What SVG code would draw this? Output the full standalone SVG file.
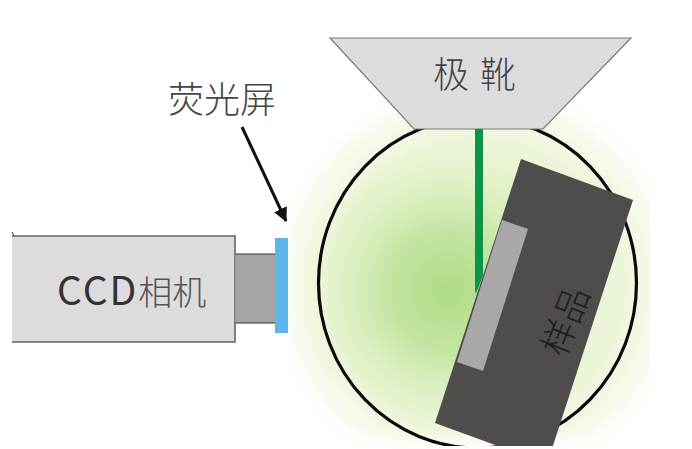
<svg xmlns="http://www.w3.org/2000/svg" width="692" height="449" viewBox="0 0 692 449">
  <defs>
    <radialGradient id="halo" gradientUnits="userSpaceOnUse" cx="477" cy="285" r="205">
      <stop offset="0" stop-color="#e6f3c8"/>
      <stop offset="0.7" stop-color="#ecf5d8"/>
      <stop offset="0.88" stop-color="#f6faec"/>
      <stop offset="1" stop-color="#ffffff"/>
    </radialGradient>
    <radialGradient id="glow" gradientUnits="userSpaceOnUse" cx="448" cy="290" r="150">
      <stop offset="0" stop-color="#aedb84" stop-opacity="1"/>
      <stop offset="0.4" stop-color="#bfe39c" stop-opacity="0.9"/>
      <stop offset="1" stop-color="#dff0c0" stop-opacity="0"/>
    </radialGradient>
    <marker id="arrow" markerUnits="userSpaceOnUse" markerWidth="15" markerHeight="14" refX="13" refY="7" orient="auto">
      <path d="M0,0 L14,7 L0,14 Z" fill="#111"/>
    </marker>
    <clipPath id="page"><rect x="0" y="0" width="692" height="446"/></clipPath>
    <linearGradient id="fadeBottom" x1="0" y1="0" x2="0" y2="1">
      <stop offset="0" stop-color="#ffffff" stop-opacity="0"/>
      <stop offset="1" stop-color="#ffffff"/>
    </linearGradient>
  </defs>
  <style>
    text { font-family: "Noto Sans CJK SC", "Noto Sans", sans-serif; fill: #444444; font-weight: 300; }
    .lbl { font-size: 36px; }
  </style>
  <rect width="692" height="449" fill="#ffffff"/>
  <g id="glow-bg">
    <rect x="290" y="90" width="360" height="359" fill="url(#halo)"/>
    <ellipse cx="448" cy="290" rx="150" ry="150" fill="url(#glow)"/>
    <rect x="290" y="430" width="360" height="19" fill="url(#fadeBottom)"/>
  </g>
  <g id="chamber">
    <ellipse cx="477.5" cy="283" rx="159" ry="165" fill="none" stroke="#0a0a0a" stroke-width="3.200" clip-path="url(#page)"/>
  </g>
  <g id="target">
    <polygon points="330,38 631,38 543,129 414,129" fill="#dcdcdd" stroke="#7a7a7a" stroke-width="1.2"/>
    <text class="lbl" x="433" y="88" style="letter-spacing:1.5px">极 靴</text>
  </g>
  <g id="beam">
    <polygon points="475,129 483,129 483,275 476,294 475,290" fill="#0d9448"/>
  </g>
  <g id="sample">
    <polygon points="521,159 633,200 547,464 435,423" fill="#504c4c" clip-path="url(#page)"/>
    <polygon points="502,220 528,229 483,371 457,362" fill="#a9a7a7"/>
    <text x="563" y="320" font-size="35" text-anchor="middle" dominant-baseline="central" transform="rotate(-68 563 320)" style="fill:#1e1c1c">样品</text>
  </g>
  <g id="camera">
    <rect x="12" y="236" width="223" height="106" fill="#dcdcdd"/>
    <path d="M12,236 H235 V342 H12" fill="none" stroke="#666" stroke-width="1.6"/>
    <path d="M12,232 L14,236" fill="none" stroke="#333" stroke-width="1"/>
    <text x="57" y="305" style="font-size:39px;fill:#333333;font-weight:400;letter-spacing:2px">CCD<tspan style="font-size:34px;letter-spacing:0;font-weight:300;fill:#555555">相机</tspan></text>
  </g>
  <g id="lens">
    <rect x="235.500" y="254" width="41" height="69" fill="#a6a6a6"/>
    <path d="M235.500,254 H276.500 V323 H235.500" fill="none" stroke="#333" stroke-width="1.2"/>
  </g>
  <g id="screen">
    <rect x="275" y="238" width="13" height="95" fill="#5bb6e9"/>
    <text class="lbl" x="168" y="113">荧光屏</text>
  </g>
  <g id="connectors">
    <line x1="242" y1="127" x2="286" y2="221" stroke="#111" stroke-width="3" marker-end="url(#arrow)"/>
  </g>
</svg>
